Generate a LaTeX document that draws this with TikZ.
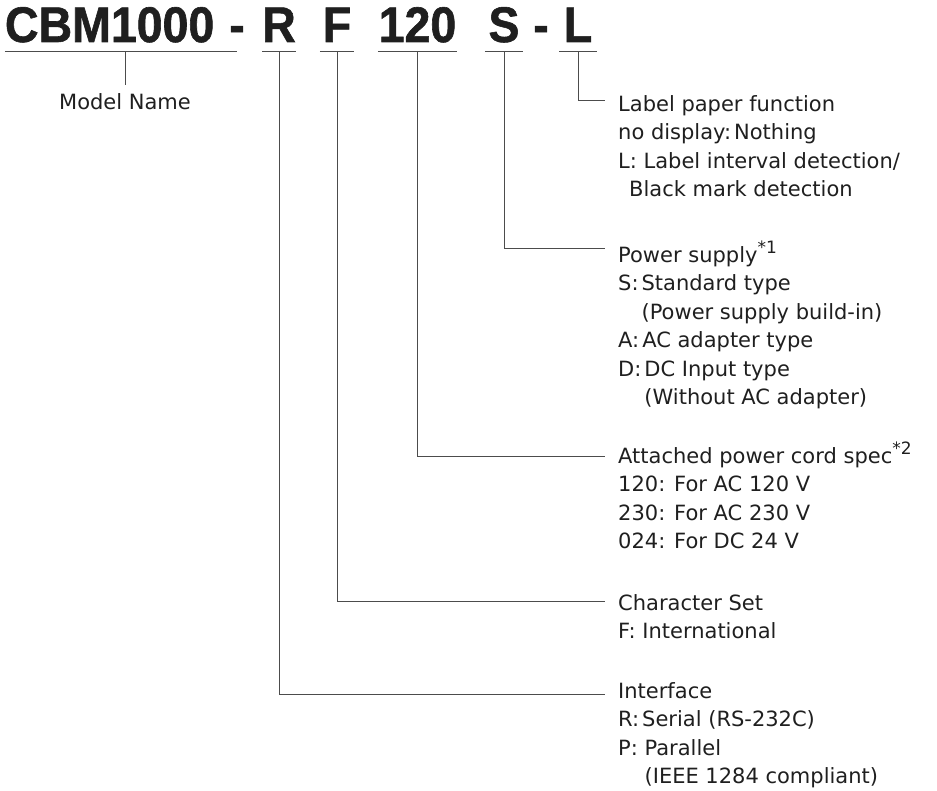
\documentclass[tikz,border=0pt]{standalone}
\usepackage{fontspec}
\setmainfont{DejaVu Sans}
\newfontfamily\codefont[FakeStretch=0.93,FakeBold=1.2]{Liberation Sans}
\newcommand{\supmark}[1]{\raisebox{0.4em}{\fontsize{17}{17}\selectfont *#1}}
\newcommand{\firstline}{\rule{0pt}{24pt}}
\newcommand{\cs}{\hspace{3pt}}
\definecolor{ink}{gray}{0.12}
\definecolor{wire}{gray}{0.3}

\begin{document}
\begin{tikzpicture}[x=1pt,y=-1pt,
  code node/.style={anchor=base,inner xsep=0pt,inner ysep=9pt,text depth=0pt,
    font=\codefont\bfseries\fontsize{50}{50}\selectfont,text=ink},
  desc node/.style={anchor=north west,align=left,inner sep=0pt,
    font=\fontsize{21}{28.5}\selectfont,text=ink},
  wire line/.style={draw=wire,line width=0.9pt}]

  \useasboundingbox (0,0) rectangle (937,791);

  % model code
  \node[code node,text width=232pt,align=left] (cbm) at (121,42) {CBM1000};
  \node[code node] (dash1) at (237,42) {-};
  \node[code node,minimum width=32pt] (r) at (279,42) {R};
  \node[code node,minimum width=34pt] (f) at (337,42) {F};
  \node[code node,minimum width=79pt] (cord) at (417.5,42) {120};
  \node[code node,minimum width=38pt] (s) at (504,42) {S};
  \node[code node] (dash2) at (541,42) {-};
  \node[code node,minimum width=37pt] (l) at (578,42) {L};
  \foreach \n in {cbm,r,f,cord,s,l}
    \draw[wire line] (\n.south west) -- (\n.south east);

  \node[desc node,anchor=base,inner ysep=9pt] (model) at (125,110) {Model Name};
  \draw[wire line] (model.north |- cbm.south) -- (model.north);

  % descriptions
  \node[desc node] (label) at (618,87) {\firstline Label paper function\\
    no display:\cs Nothing\\
    L: Label interval detection/\\
    \hspace{11pt}Black mark detection};
  \node[desc node] (power) at (618,238) {\firstline Power supply\supmark{1}\\
    S:\cs Standard type\\
    \phantom{S:}\cs(Power supply build-in)\\
    A:\cs AC adapter type\\
    D:\cs DC Input type\\
    \phantom{D:}\cs(Without AC adapter)};
  \node[desc node] (spec) at (618,439) {\firstline Attached power cord spec\supmark{2}\\
    120: For AC 120 V\\
    230: For AC 230 V\\
    024: For DC 24 V};
  \node[desc node] (charset) at (618,586) {\firstline Character Set\\
    F: International};
  \node[desc node] (iface) at (618,674) {\firstline Interface\\
    R:\cs Serial (RS-232C)\\
    P: Parallel\\
    \phantom{P: }(IEEE 1284 compliant)};

  \coordinate (label in) at (605,100);
  \coordinate (power in) at (605,248);
  \coordinate (spec in) at (605,456);
  \coordinate (charset in) at (605,601);
  \coordinate (iface in) at (605,694);

  \draw[wire line] (l.south) |- (label in);
  \draw[wire line] (s.south) |- (power in);
  \draw[wire line] (cord.south) |- (spec in);
  \draw[wire line] (f.south) |- (charset in);
  \draw[wire line] (r.south) |- (iface in);

\end{tikzpicture}
\end{document}
